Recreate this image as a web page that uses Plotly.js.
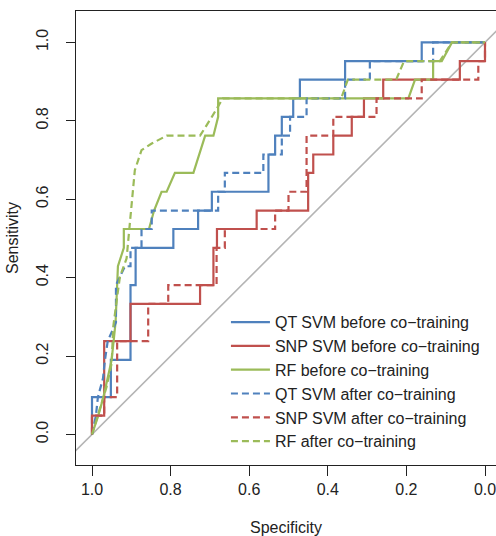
<!DOCTYPE html>
<html><head><meta charset="utf-8">
<script src="https://cdn.plot.ly/plotly-3.0.1.min.js"></script>
<style>html,body{margin:0;padding:0;background:#fff}</style>
</head><body><div id="chart" style="width:496px;height:536px"></div>
<script>
const seriesNames = ['QT SVM before co\u2212training','SNP SVM before co\u2212training','RF before co\u2212training',
  'QT SVM after co\u2212training','SNP SVM after co\u2212training','RF after co\u2212training'];

const qtBeforeSpec = [1,1,0.952,0.952,0.902,0.902,0.889,0.889,0.793,0.793,0.730,0.730,0.695,0.695,0.551,0.551,0.534,0.534,0.517,0.517,0.488,0.488,0.471,0.471,0.356,0.356,0.161,0.161,0];
const qtBeforeSens = [0,0.095,0.095,0.190,0.190,0.381,0.381,0.476,0.476,0.524,0.524,0.571,0.571,0.619,0.619,0.714,0.714,0.762,0.762,0.810,0.810,0.857,0.857,0.905,0.905,0.952,0.952,1,1];

const snpBeforeSpec = [1,1,0.969,0.969,0.902,0.902,0.725,0.725,0.691,0.691,0.682,0.682,0.581,0.581,0.450,0.450,0.437,0.437,0.386,0.386,0.339,0.339,0.308,0.308,0.259,0.259,0.064,0.064,0,0];
const snpBeforeSens = [0,0.048,0.048,0.238,0.238,0.333,0.333,0.381,0.381,0.476,0.476,0.524,0.524,0.571,0.571,0.667,0.667,0.714,0.714,0.762,0.762,0.810,0.810,0.857,0.857,0.905,0.905,0.952,0.952,1];

const rfBeforeSpec = [1,0.984,0.971,0.950,0.940,0.936,0.934,0.919,0.919,0.855,0.842,0.823,0.810,0.789,0.742,0.712,0.691,0.679,0.679,0.195,0.178,0.132,0.132,0.110,0.084,0];
const rfBeforeSens = [0,0.048,0.095,0.190,0.286,0.381,0.429,0.476,0.524,0.524,0.571,0.619,0.619,0.667,0.667,0.762,0.762,0.810,0.857,0.857,0.905,0.905,0.952,0.952,1,1];

const qtAfterSpec = [1,0.990,0.985,0.972,0.967,0.960,0.939,0.939,0.916,0.902,0.902,0.874,0.874,0.848,0.848,0.679,0.679,0.662,0.662,0.564,0.564,0.517,0.517,0.496,0.496,0.454,0.454,0.356,0.356,0.293,0.293,0.132,0.132,0];
const qtAfterSens = [0,0.048,0.095,0.143,0.190,0.238,0.286,0.381,0.429,0.429,0.476,0.476,0.524,0.524,0.571,0.571,0.619,0.619,0.667,0.667,0.714,0.714,0.762,0.762,0.810,0.810,0.857,0.857,0.905,0.905,0.952,0.952,1,1];

const snpAfterSpec = [1,1,0.969,0.969,0.936,0.936,0.857,0.857,0.806,0.806,0.683,0.683,0.662,0.662,0.534,0.534,0.500,0.500,0.454,0.454,0.386,0.386,0.276,0.276,0.161,0.161,0.017,0.017,0,0];
const snpAfterSens = [0,0.048,0.048,0.095,0.095,0.238,0.238,0.333,0.333,0.381,0.381,0.476,0.476,0.524,0.524,0.571,0.571,0.619,0.619,0.762,0.762,0.810,0.810,0.857,0.857,0.905,0.905,0.952,0.952,1];

const rfAfterSpec = [1,0.984,0.963,0.950,0.946,0.937,0.929,0.912,0.903,0.899,0.891,0.874,0.848,0.810,0.725,0.695,0.667,0.366,0.349,0.226,0.206,0.115,0.084,0];
const rfAfterSens = [0,0.054,0.121,0.181,0.274,0.343,0.402,0.449,0.547,0.598,0.674,0.725,0.742,0.762,0.762,0.810,0.857,0.857,0.905,0.905,0.952,0.952,1,1];

const diagSpec = [1.2,-0.2];
const diagSens = [-0.2,1.2];

const tickVals = [0,0.2,0.4,0.6,0.8,1];
const tickText = ['0.0','0.2','0.4','0.6','0.8','1.0'];

const colors = ['#4f81bd','#c0504d','#9bbb59'];
const FONT = 'Liberation Sans, Arial, Helvetica, sans-serif';

function tr(x,y,name,color,dash){
  return {x:x,y:y,name:name,type:'scatter',mode:'lines',
    line:{color:color,width:2.2,dash:dash},hoverinfo:'skip'};
}
const data = [
  {x:diagSpec,y:diagSens,type:'scatter',mode:'lines',line:{color:'#b4b4b4',width:1.6},showlegend:false,hoverinfo:'skip'},
  tr(qtBeforeSpec,qtBeforeSens,seriesNames[0],colors[0],'solid'),
  tr(snpBeforeSpec,snpBeforeSens,seriesNames[1],colors[1],'solid'),
  tr(rfBeforeSpec,rfBeforeSens,seriesNames[2],colors[2],'solid'),
  tr(qtAfterSpec,qtAfterSens,seriesNames[3],colors[0],'7px,4px'),
  tr(snpAfterSpec,snpAfterSens,seriesNames[4],colors[1],'7px,4px'),
  tr(rfAfterSpec,rfAfterSens,seriesNames[5],colors[2],'7px,4px')
];
const layout = {
  width:496,height:536,
  margin:{l:76,r:0,t:11,b:71},
  paper_bgcolor:'#fff',plot_bgcolor:'#fff',
  font:{family:FONT,size:16,color:'#222'},
  showlegend:true,
  legend:{x:0.357,xanchor:'left',y:0.352,yanchor:'top',bgcolor:'rgba(0,0,0,0)',borderwidth:0,
    font:{family:FONT,size:16,color:'#222'},itemwidth:39,tracegroupgap:0},
  xaxis:{range:[1.0407,-0.028],tickvals:tickVals,ticktext:tickText,ticks:'outside',ticklen:10,tickwidth:1,
    tickcolor:'#222',showline:true,linecolor:'#222',linewidth:1,mirror:true,showgrid:false,zeroline:false,
    ticklabeloverflow:'allow',
    tickfont:{family:FONT,size:16,color:'#222'},
    title:{text:'Specificity',font:{family:FONT,size:16,color:'#222'},standoff:24}},
  yaxis:{range:[-0.078,1.080],tickvals:tickVals,ticktext:tickText,ticks:'outside',ticklen:9,tickwidth:1,
    tickcolor:'#222',showline:true,linecolor:'#222',linewidth:1,showgrid:false,zeroline:false,tickangle:-90,
    ticklabelstandoff:12,
    tickfont:{family:FONT,size:16,color:'#222'},
    title:{text:'Sensitivity',font:{family:FONT,size:16,color:'#222'},standoff:10}}
};
Plotly.newPlot('chart',data,layout,{displayModeBar:false,staticPlot:true});
</script></body></html>
